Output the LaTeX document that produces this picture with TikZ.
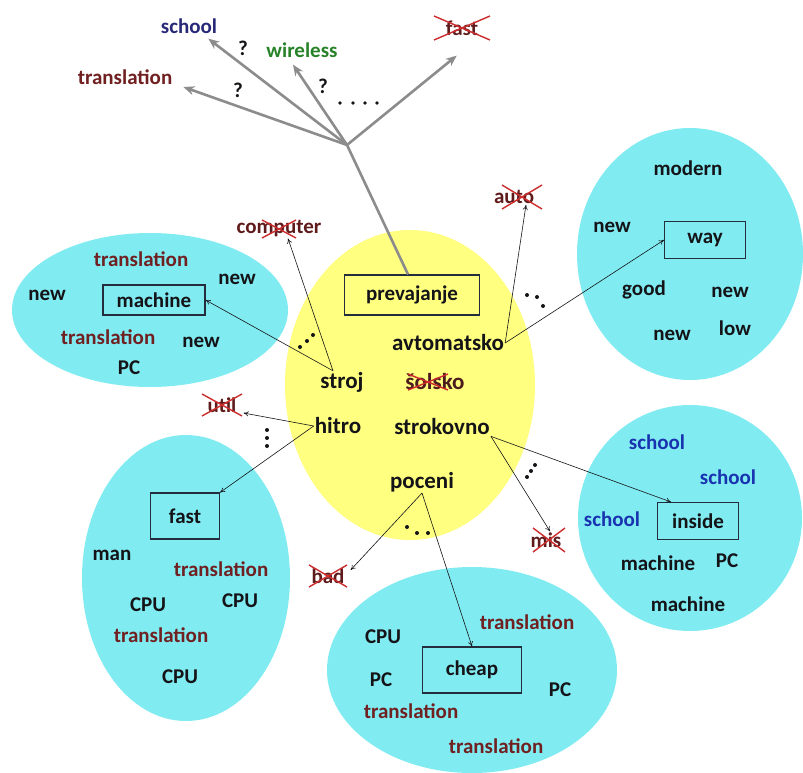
\documentclass[tikz,border=0pt]{standalone}
\usepackage{fontspec}
\setmainfont{Carlito}
\usetikzlibrary{arrows.meta}

\definecolor{cloudcyan}{RGB}{128,236,242}
\definecolor{sunyellow}{RGB}{255,255,128}
\definecolor{ink}{RGB}{20,20,24}
\definecolor{maroon}{RGB}{112,32,32}
\definecolor{navy}{RGB}{40,40,120}
\definecolor{schoolblue}{RGB}{25,50,175}
\definecolor{leafgreen}{RGB}{40,130,40}
\definecolor{crossred}{RGB}{205,45,45}
\definecolor{boxline}{RGB}{35,45,60}

% red X over a dropped word: centre, half width, half height
\newcommand{\strikeword}[3]{\draw[xline] ([shift={(-#2,-#3)}]#1) -- ([shift={(#2,#3)}]#1) ([shift={(-#2,#3)}]#1) -- ([shift={(#2,-#3)}]#1);}

\begin{document}
\begin{tikzpicture}[x=1pt,y=-1pt,
  word/.style={font=\fontsize{21}{21}\selectfont\bfseries, text=ink, inner sep=1pt},
  core/.style={word, font=\fontsize{23}{23}\selectfont\bfseries},
  trans/.style={word, text=maroon},
  gone/.style={word, text=maroon!85!black},
  keybox/.style={word, draw=boxline, line width=1.1pt, inner sep=0pt},
  link/.style={-{To[length=5pt,width=5pt]}, line width=0.6pt, ink},
  guess/.style={-{Stealth[length=11pt,width=9pt]}, line width=2.6pt, black!45},
  xline/.style={line width=1.4pt, crossred},
  dot/.style={ink}]
\fill[white] (0,0) rectangle (803,773);
\useasboundingbox (0,0) rectangle (803,773);

% background clouds
\fill[cloudcyan] (150,310) ellipse [x radius=138pt, y radius=77pt];
\fill[cloudcyan] (690,254) ellipse [x radius=113pt, y radius=126pt];
\fill[cloudcyan] (186,578) ellipse [x radius=104pt, y radius=143pt];
\fill[cloudcyan] (472,670) ellipse [x radius=145pt, y radius=103pt];
\fill[cloudcyan] (690,518) ellipse [x radius=112pt, y radius=113pt];
\fill[sunyellow] (410,385) ellipse [x radius=125pt, y radius=155pt];

% source words
\node[keybox, minimum width=135pt, minimum height=40pt] (prev) at (412,295) {prevajanje};
\node[core] (avto) at (448,343) {avtomatsko};
\node[core] (stroj) at (342,382) {stroj};
\node[core, text=maroon!60!ink] (solsko) at (435,382) {šolsko};
\coordinate (solskox) at ([xshift=-7pt]solsko.center);
\strikeword{solskox}{20}{8}
\node[core] (hitro) at (338,426) {hitro};
\node[core] (strok) at (442,427) {strokovno};
\node[core] (poceni) at (422,482) {poceni};

% top: where the word could go
\coordinate (hub) at (347,145);
\node[word, text=navy] (schoolq) at (189,26) {school};
\node[word, text=leafgreen] (wireless) at (302,50) {wireless};
\node[gone] (fastq) at (462,28) {fast};
\node[trans] (transq) at (125,77) {translation};
\node[word] (q1) at (243,48) {?};
\node[word] (q2) at (238,90) {?};
\node[word] (q3) at (323,86) {?};
\foreach \x in {340,353,365,377} \fill[dot] (\x,103) circle (1.8pt);

\draw[line width=2.6pt, black!45] ([xshift=-4pt]prev.north) -- (hub);
\draw[guess] (hub) -- ([shift={(10,10)}]transq.east);
\draw[guess] (hub) -- ([shift={(-10,4)}]schoolq.south east);
\draw[guess] (hub) -- ([shift={(-9,6)}]wireless.south);
\draw[guess] (hub) -- ([shift={(12,19)}]fastq.south west);
\strikeword{fastq.center}{28}{12}

% stroj -> machine
\node[trans] (tr1) at (141,259) {translation};
\node[word] (new1) at (237,279) {new};
\node[word] (new2) at (47,295) {new};
\node[keybox, minimum width=102pt, minimum height=30pt] (machine) at (154,300) {machine};
\node[trans] (tr2) at (108,337) {translation};
\node[word] (new3) at (201,342) {new};
\node[word] (pc1) at (129,368) {PC};
\node[gone] (comp) at (279,229) {computer};
\strikeword{comp.center}{17}{9}
\draw[link] ([xshift=-9pt]stroj.north) -- (machine.east);
\draw[link] ([xshift=-9pt]stroj.north) -- ([xshift=9pt]comp.south);
\foreach \x/\y in {300/347,307/341,313/335} \fill[dot] (\x,\y) circle (2pt);

% avtomatsko -> way
\node[word] (modern) at (688,168) {modern};
\node[word] (new4) at (612,227) {new};
\node[keybox, minimum width=81pt, minimum height=37pt] (way) at (705,240) {way};
\node[word] (good) at (644,290) {good};
\node[word] (new5) at (730,292) {new};
\node[word] (new6) at (672,335) {new};
\node[word] (low) at (735,328) {low};
\node[gone] (auto) at (514,197) {auto};
\coordinate (autox) at ([xshift=8pt]auto.center);
\strikeword{autox}{20}{12}
\draw[link] (avto.east) -- ([xshift=12pt]auto.south);
\draw[link] (avto.east) -- (way.west);
\foreach \x/\y in {527/295,537/297,543/306} \fill[dot] (\x,\y) circle (2pt);

% hitro -> fast
\node[gone] (util) at (222,405) {util};
\strikeword{util.center}{20}{11}
\node[keybox, minimum width=69pt, minimum height=46pt] (fast) at (185,516) {fast};
\node[word] (man) at (112,555) {man};
\node[trans] (tr3) at (221,569) {translation};
\node[word] (cpu1) at (148,605) {CPU};
\node[word] (cpu2) at (240,601) {CPU};
\node[trans] (tr4) at (161,635) {translation};
\node[word] (cpu3) at (180,677) {CPU};
\draw[link] (hitro.west) -- ([shift={(6,8)}]util.east);
\draw[link] (hitro.west) -- (fast.north east);
\foreach \y in {430,438,446} \fill[dot] (267,\y) circle (2pt);

% poceni -> cheap
\node[gone] (bad) at (328,576) {bad};
\strikeword{bad.center}{19}{11}
\node[trans] (tr5) at (527,622) {translation};
\node[word] (cpu4) at (383,637) {CPU};
\node[keybox, minimum width=99pt, minimum height=46pt] (cheap) at (472,670) {cheap};
\node[word] (pc2) at (381,680) {PC};
\node[word] (pc3) at (560,690) {PC};
\node[trans] (tr6) at (411,711) {translation};
\node[trans] (tr7) at (496,746) {translation};
\draw[link] (poceni.south) -- ([shift={(5,-6)}]bad.east);
\draw[link] (poceni.south) -- (cheap.north);
\foreach \x/\y in {407/527,417/533,428/533} \fill[dot] (\x,\y) circle (2pt);

% strokovno -> inside
\node[gone] (mis) at (546,540) {mis};
\coordinate (misx) at ([xshift=3pt]mis.center);
\strikeword{misx}{16}{12}
\node[word, text=schoolblue] (sch1) at (657,442) {school};
\node[word, text=schoolblue] (sch2) at (728,477) {school};
\node[word, text=schoolblue] (sch3) at (612,519) {school};
\node[keybox, minimum width=81pt, minimum height=37pt] (inside) at (698,521) {inside};
\node[word] (mach1) at (658,563) {machine};
\node[word] (pc4) at (727,561) {PC};
\node[word] (mach2) at (688,604) {machine};
\draw[link] (strok.south east) -- ([xshift=4pt]mis.north);
\draw[link] (strok.south east) -- ([xshift=14pt]inside.north west);
\foreach \x/\y in {527/477,531/471,535/465} \fill[dot] (\x,\y) circle (2pt);
\end{tikzpicture}
\end{document}
